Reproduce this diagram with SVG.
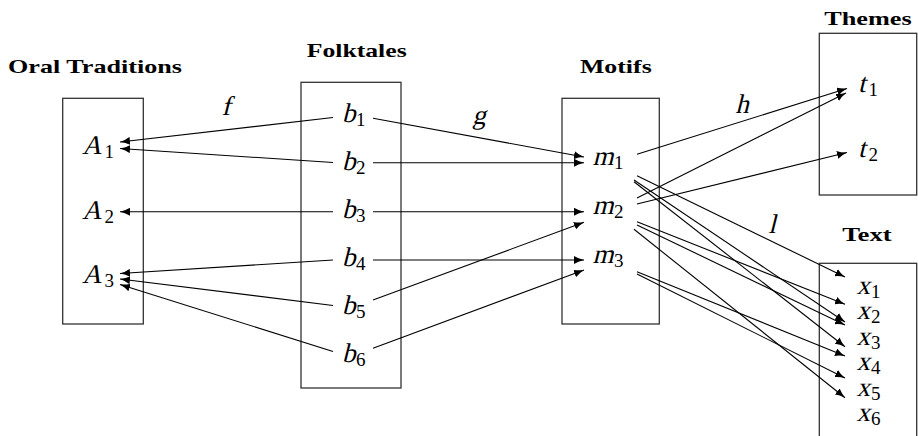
<svg xmlns="http://www.w3.org/2000/svg" width="918" height="436" viewBox="0 0 918 436">
<style>
.box{fill:none;stroke:#333;stroke-width:1.3}
.ttl{font-family:'Liberation Serif','Times New Roman',serif;font-weight:bold;font-size:19px;fill:#000}
.v{font-family:'Liberation Serif','Times New Roman',serif;font-style:normal;font-size:27px;fill:#000}
.s{font-family:'Liberation Serif','Times New Roman',serif;font-style:normal;font-size:19px;fill:#000}
.c line{stroke:#000;stroke-width:1.1;fill:none;marker-end:url(#ar)}
</style>
<defs>
<marker id="ar" viewBox="0 0 10 8" markerWidth="10" markerHeight="8" refX="10" refY="4" orient="auto" markerUnits="userSpaceOnUse">
<path d="M0,0 Q4,2.6 10,4 Q4,5.4 0,8 Z" fill="#000"/>
</marker>
</defs>
<rect width="918" height="436" fill="#fff"/>

<g id="oral-traditions">
<rect class="box" x="62.7" y="98.3" width="80.6" height="225.7"/>
<text class="ttl" x="8" y="73" textLength="174" lengthAdjust="spacingAndGlyphs">Oral Traditions</text>
</g>
<g id="folktales">
<rect class="box" x="301" y="82.3" width="100" height="305.7"/>
<text class="ttl" x="306.7" y="56.7" textLength="100" lengthAdjust="spacingAndGlyphs">Folktales</text>
</g>
<g id="motifs">
<rect class="box" x="562" y="98.3" width="97.3" height="225.7"/>
<text class="ttl" x="580" y="73" textLength="71.7" lengthAdjust="spacingAndGlyphs">Motifs</text>
</g>
<g id="themes">
<rect class="box" x="819.3" y="33.3" width="97.4" height="161.7"/>
<text class="ttl" x="824.3" y="25" textLength="87.4" lengthAdjust="spacingAndGlyphs">Themes</text>
</g>
<g id="text-box">
<rect class="box" x="819.3" y="263.3" width="97.4" height="190"/>
<text class="ttl" x="842.2" y="240.7" textLength="49.5" lengthAdjust="spacingAndGlyphs">Text</text>
</g>

<g id="A1"><text class="v" transform="translate(82,154) skewX(-14)">A</text><text class="s" x="104.5" y="158">1</text></g>
<g id="A2"><text class="v" transform="translate(82,219) skewX(-14)">A</text><text class="s" x="104.5" y="223">2</text></g>
<g id="A3"><text class="v" transform="translate(82,283) skewX(-14)">A</text><text class="s" x="104.5" y="287">3</text></g>

<g id="b1"><text class="v" transform="translate(342,122) skewX(-14)">b</text><text class="s" x="356" y="126">1</text></g>
<g id="b2"><text class="v" transform="translate(342,170) skewX(-14)">b</text><text class="s" x="356" y="174">2</text></g>
<g id="b3"><text class="v" transform="translate(342,218) skewX(-14)">b</text><text class="s" x="356" y="222">3</text></g>
<g id="b4"><text class="v" transform="translate(342,266) skewX(-14)">b</text><text class="s" x="356" y="270">4</text></g>
<g id="b5"><text class="v" transform="translate(342,314) skewX(-14)">b</text><text class="s" x="356" y="318">5</text></g>
<g id="b6"><text class="v" transform="translate(342,362) skewX(-14)">b</text><text class="s" x="356" y="366">6</text></g>

<g id="m1"><text class="v" transform="translate(592.5,165) skewX(-14)">m</text><text class="s" x="614" y="169">1</text></g>
<g id="m2"><text class="v" transform="translate(592.5,214) skewX(-14)">m</text><text class="s" x="614" y="218">2</text></g>
<g id="m3"><text class="v" transform="translate(592.5,262.5) skewX(-14)">m</text><text class="s" x="614" y="266.5">3</text></g>

<g id="t1"><text class="v" transform="translate(858,91.5) skewX(-14)">t</text><text class="s" x="868.5" y="95.5">1</text></g>
<g id="t2"><text class="v" transform="translate(858,156.5) skewX(-14)">t</text><text class="s" x="868.5" y="160.5">2</text></g>

<g id="x1"><text class="v" transform="translate(856.5,293.5) skewX(-14)">x</text><text class="s" x="871" y="297.5">1</text></g>
<g id="x2"><text class="v" transform="translate(856.5,319) skewX(-14)">x</text><text class="s" x="871" y="323">2</text></g>
<g id="x3"><text class="v" transform="translate(856.5,344.5) skewX(-14)">x</text><text class="s" x="871" y="348.5">3</text></g>
<g id="x4"><text class="v" transform="translate(856.5,370) skewX(-14)">x</text><text class="s" x="871" y="374">4</text></g>
<g id="x5"><text class="v" transform="translate(856.5,395.5) skewX(-14)">x</text><text class="s" x="871" y="399.5">5</text></g>
<g id="x6"><text class="v" transform="translate(856.5,421) skewX(-14)">x</text><text class="s" x="871" y="425">6</text></g>

<g id="connectors" class="c">
<line x1="333" y1="117.5" x2="120" y2="142"/>
<line x1="333" y1="162.5" x2="120" y2="148.5"/>
<line x1="333" y1="211.7" x2="120" y2="211.7"/>
<line x1="333" y1="260" x2="120" y2="273.5"/>
<line x1="333" y1="305.5" x2="120" y2="279"/>
<line x1="333" y1="351.5" x2="120" y2="284.5"/>

<line x1="373" y1="118.3" x2="584" y2="157"/>
<line x1="373" y1="162.7" x2="584" y2="162.7"/>
<line x1="373" y1="211.7" x2="584" y2="211.7"/>
<line x1="373" y1="260" x2="584" y2="260"/>
<line x1="373" y1="300" x2="584" y2="222.3"/>
<line x1="373" y1="348.3" x2="584" y2="270"/>

<line x1="637" y1="154.3" x2="847" y2="88.5"/>
<line x1="637" y1="198" x2="846" y2="93"/>
<line x1="637" y1="204" x2="847" y2="152.5"/>

<line x1="637" y1="175.7" x2="845" y2="277"/>
<line x1="634" y1="180" x2="845" y2="322"/>
<line x1="634" y1="181.7" x2="845" y2="346.7"/>
<line x1="637" y1="221.7" x2="845" y2="304.3"/>
<line x1="637" y1="225" x2="845" y2="325"/>
<line x1="634" y1="229.3" x2="845" y2="397.7"/>
<line x1="637" y1="271.7" x2="845" y2="356"/>
<line x1="637" y1="274" x2="845" y2="378"/>
</g>

<g id="edge-labels">
<text class="v" text-anchor="middle" transform="translate(226,115) skewX(-14)">f</text>
<text class="v" text-anchor="middle" transform="translate(479,124) skewX(-14)">g</text>
<text class="v" text-anchor="middle" transform="translate(742,113) skewX(-14)">h</text>
<text class="v" text-anchor="middle" transform="translate(772,232.7) skewX(-14)">l</text>
</g>
</svg>
